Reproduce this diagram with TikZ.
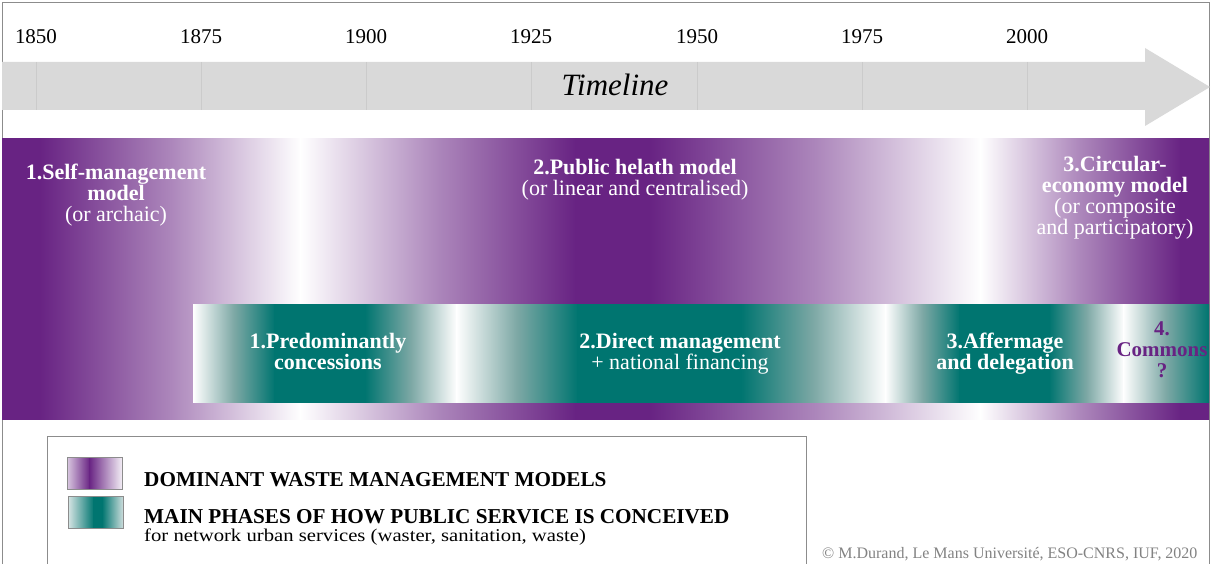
\documentclass[tikz,border=0pt]{standalone}
\usepackage{fontspec}
\setmainfont{Liberation Serif}
\newfontfamily\widefont[FakeStretch=1.15]{Liberation Serif}
\usepackage{tikz}
\usepackage{xcolor}
\definecolor{wmpurple}{RGB}{104,35,131}
\definecolor{wmteal}{RGB}{0,117,112}
\definecolor{wmtealmid}{RGB}{125,168,165}
\definecolor{wmgray}{RGB}{217,217,217}
\definecolor{wmgrid}{RGB}{203,203,203}
\definecolor{wmframe}{RGB}{140,140,140}
\definecolor{wmcredit}{RGB}{130,130,130}
\tikzstyle{year} = [anchor=base, inner sep=0pt, font=\fontsize{21}{21}\selectfont]
\tikzstyle{model} = [align=center, inner sep=0pt, text=white, font=\fontsize{22}{21}\selectfont]
\tikzstyle{legend} = [anchor=base west, inner sep=0pt, font=\bfseries\fontsize{21.2}{21.2}\selectfont]
\tikzstyle{pfade} = [left color=wmpurple, right color=white, middle color=wmpurple!55]
\tikzstyle{prise} = [left color=white, right color=wmpurple, middle color=wmpurple!55]
\tikzstyle{pflat} = [left color=wmpurple, right color=wmpurple]
\tikzstyle{tfade} = [left color=wmteal, right color=white, middle color=wmtealmid]
\tikzstyle{trise} = [left color=white, right color=wmteal, middle color=wmtealmid]
\tikzstyle{tflat} = [left color=wmteal, right color=wmteal]

\begin{document}
\begin{tikzpicture}[x=1pt, y=-1pt]
\useasboundingbox (0,0) rectangle (1213,564);
\draw[wmframe, line width=0.8pt] (2,564) -- (2,2) -- (1209,2) -- (1209,564);

\fill[wmgray] (2,62) -- (1145,62) -- (1145,48) -- (1210,87) -- (1145,126) -- (1145,110) -- (2,110) -- cycle;
\draw[wmgrid, line width=0.6pt] (36,62) -- (36,110);
\draw[wmgrid, line width=0.6pt] (201,62) -- (201,110);
\draw[wmgrid, line width=0.6pt] (366,62) -- (366,110);
\draw[wmgrid, line width=0.6pt] (531,62) -- (531,110);
\draw[wmgrid, line width=0.6pt] (697,62) -- (697,110);
\draw[wmgrid, line width=0.6pt] (862,62) -- (862,110);
\draw[wmgrid, line width=0.6pt] (1027,62) -- (1027,110);

\node[year] (y1850) at (36,44) {1850};
\node[year] (y1875) at (201,44) {1875};
\node[year] (y1900) at (366,44) {1900};
\node[year] (y1925) at (531,44) {1925};
\node[year] (y1950) at (697,44) {1950};
\node[year] (y1975) at (862,44) {1975};
\node[year] (y2000) at (1027,44) {2000};
\node[anchor=base, inner sep=0pt, font=\itshape\fontsize{31}{31}\selectfont] (timeline) at (615,96) {Timeline};

\shade[pflat] (2,139) rectangle (41,419);
\shade[pfade] (40,139) rectangle (301,419);
\shade[prise] (300,139) rectangle (576,419);
\shade[pflat] (575,139) rectangle (651,419);
\shade[pfade] (650,139) rectangle (981,419);
\shade[prise] (980,139) rectangle (1181,419);
\shade[pflat] (1180,139) rectangle (1209,419);

\shade[trise] (193,304) rectangle (275,402);
\shade[tflat] (274,304) rectangle (366,402);
\shade[tfade] (365,304) rectangle (457,402);
\shade[trise] (456,304) rectangle (578,402);
\shade[tflat] (577,304) rectangle (742,402);
\shade[tfade] (741,304) rectangle (886,402);
\shade[trise] (885,304) rectangle (960,402);
\shade[tflat] (959,304) rectangle (1050,402);
\shade[tfade] (1049,304) rectangle (1124,402);
\shade[trise] (1123,304) rectangle (1209,402);

\node[model] (selfmgmt) at (116,195) {\textbf{1.Self-management}\\\textbf{model}\\(or archaic)};
\node[model] (publichealth) at (635,179.5) {\textbf{2.Public helath model}\\(or linear and centralised)};
\node[model] (circular) at (1115,197.5) {\textbf{3.Circular-}\\\textbf{economy model}\\(or composite\\and participatory)};

\node[model] (concessions) at (328,351) {\textbf{1.Predominantly}\\\textbf{concessions}};
\node[model] (directmgmt) at (680,353.3) {\textbf{2.Direct management}\\+ national financing};
\node[model] (affermage) at (1005,353.3) {\textbf{3.Affermage}\\\textbf{and delegation}};
\node[model, text=wmpurple, font=\bfseries\fontsize{21}{21}\selectfont] (commons) at (1162,350) {4.\\Commons\\?};

\draw[wmframe, line width=0.8pt] (47,564) -- (47,436) -- (806,436) -- (806,564);
\shade[left color=wmpurple!25, right color=wmpurple] (67,457) rectangle (90,489);
\shade[left color=wmpurple, right color=wmpurple!8] (89,457) rectangle (122,489);
\draw[wmframe, line width=0.8pt] (67,457) rectangle (122,489);
\shade[left color=wmtealmid!30, right color=wmteal] (68,496) rectangle (94,528);
\shade[tflat] (93,496) rectangle (103,528);
\shade[left color=wmteal, right color=wmtealmid!40] (102,496) rectangle (123,528);
\draw[wmframe, line width=0.8pt] (68,496) rectangle (123,528);

\node[legend] (legmodels) at (144,486) {DOMINANT WASTE MANAGEMENT MODELS};
\node[legend] (legphases) at (144,523) {MAIN PHASES OF HOW PUBLIC SERVICE IS CONCEIVED};
\node[anchor=base west, inner sep=0pt, font=\widefont\fontsize{18}{18}\selectfont] (legnetwork) at (144,541) {for network urban services (waster, sanitation, waste)};

\node[anchor=base west, inner sep=0pt, text=wmcredit, font=\fontsize{16}{16}\selectfont] (credit) at (822,558) {© M.Durand, Le Mans Université, ESO-CNRS, IUF, 2020};
\end{tikzpicture}
\end{document}
